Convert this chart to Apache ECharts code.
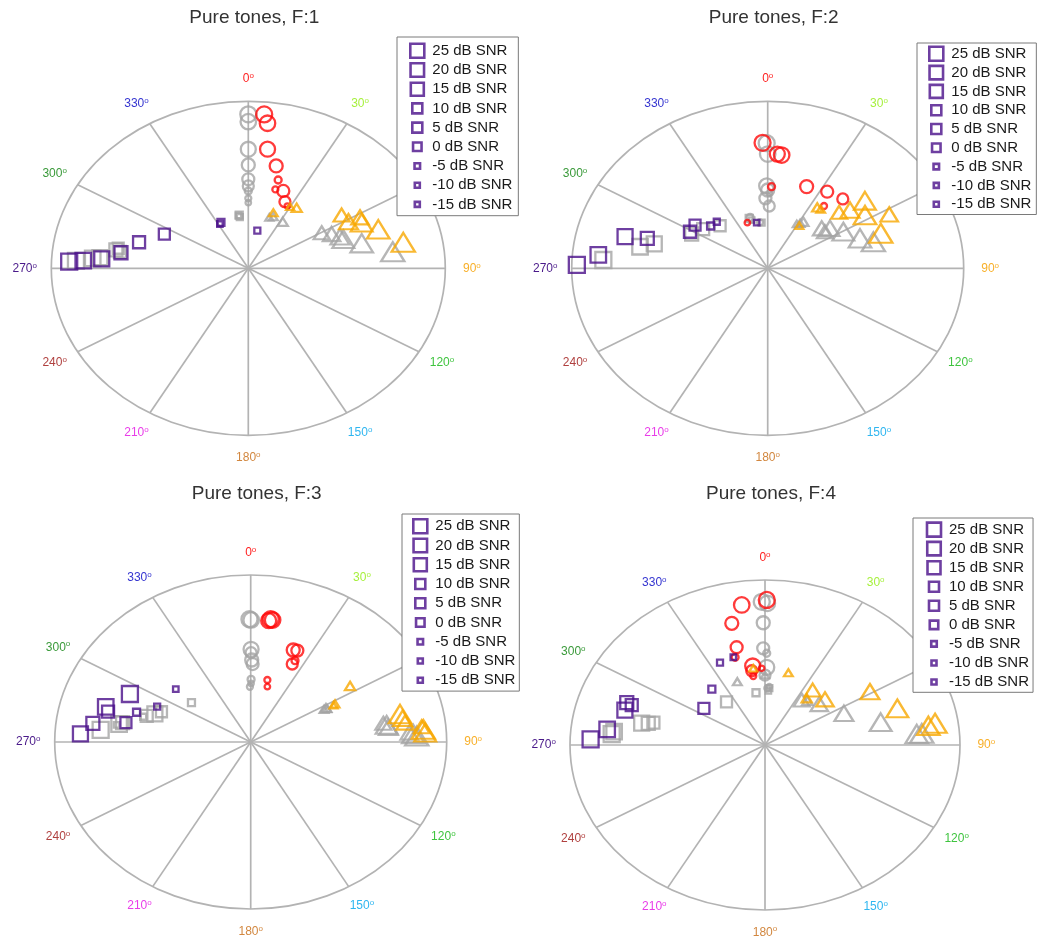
<!DOCTYPE html>
<html><head><meta charset="utf-8">
<script src="https://cdn.jsdelivr.net/npm/echarts@6/dist/echarts.min.js"></script>
<style>html,body{margin:0;padding:0;background:#fff}#c{width:1037px;height:938px}</style>
</head><body><div id="c"></div>
<script>
// ---------- DATA ----------
const snrLabels = ['25 dB SNR','20 dB SNR','15 dB SNR','10 dB SNR','5 dB SNR','0 dB SNR','-5 dB SNR','-10 dB SNR','-15 dB SNR'];
const panelTitles = ['Pure tones, F:1','Pure tones, F:2','Pure tones, F:3','Pure tones, F:4'];
const tickAngles = [0,30,60,90,120,150,180,210,240,270,300,330];
const tickColors = ['#ff2222','#a6f03c','#f0c000','#f8b02a','#3fc43f','#2fb6f0','#d2873f','#e93de9','#b0403f','#4a1a8a','#3a9a3a','#3535d0'];

// each entry: [angle (deg), radius (0..1)], ordered 25 dB ... -15 dB SNR
const f1Red     = [[5.0,0.925],[6.4,0.874],[7.8,0.720],[13.0,0.629],[21.0,0.496],[25.0,0.440],[16.0,0.550],[16.2,0.492],[28.0,0.422]];
const f1GrayC   = [[0,0.922],[0,0.878],[0,0.713],[0,0.619],[0,0.533],[0,0.493],[0,0.463],[0,0.419],[0,0.393]];
const f1Orange  = [[78.8,0.802],[70.5,0.700],[64.6,0.637],[61.2,0.580],[61.7,0.644],[56.0,0.571],[34.1,0.438],[20.9,0.356],[29.9,0.425]];
const f1GrayT   = [[82.3,0.740],[75.4,0.595],[70.1,0.513],[67.9,0.502],[64.1,0.470],[60.3,0.429],[32.1,0.329],[22.3,0.334],[19.3,0.323]];
const f1Purple  = [[272.5,0.910],[273.1,0.839],[274.3,0.746],[278.2,0.653],[285.7,0.576],[295.7,0.473],[333.2,0.308],[11.5,0.230],[331.5,0.302]];
const f1GrayS   = [[272.9,0.876],[274.3,0.792],[274.8,0.756],[279.3,0.681],[278.6,0.659],[280.3,0.671],[351.8,0.322],[352.0,0.310],[351.0,0.320]];

const f2Red     = [[358.0,0.752],[6.0,0.682],[4.1,0.686],[22.1,0.528],[33.5,0.550],[42.7,0.565],[2.3,0.489],[37.6,0.471],[339.2,0.292]];
const f2GrayC   = [[359.6,0.749],[0,0.684],[359.4,0.493],[0,0.469],[358.4,0.419],[1.2,0.373],[343.6,0.318],[351.9,0.278],[1.0,0.449]];
const f2Orange  = [[70.0,0.614],[57.3,0.590],[50.8,0.640],[50.3,0.546],[62.5,0.699],[47.4,0.495],[34.7,0.444],[37.4,0.445],[32.3,0.302]];
const f2GrayT   = [[73.6,0.562],[69.1,0.504],[60.4,0.444],[53.0,0.398],[49.0,0.365],[53.1,0.365],[33.1,0.333],[31.5,0.316],[29.2,0.304]];
const f2Purple  = [[271.2,0.974],[275.3,0.868],[284.6,0.752],[286.3,0.640],[298.9,0.453],[304.9,0.452],[311.0,0.386],[317.0,0.381],[348.4,0.279]];
const f2GrayS   = [[273.4,0.840],[281.2,0.664],[284.2,0.597],[297.9,0.439],[305.4,0.404],[316.4,0.352],[342.5,0.314],[353.5,0.275],[344.2,0.300]];

const f3Red     = [[7.9,0.742],[8.7,0.739],[7.2,0.732],[21.5,0.592],[23.5,0.597],[24.4,0.513],[24.9,0.537],[12.9,0.381],[14.4,0.342]];
const f3GrayC   = [[359.5,0.735],[0.2,0.731],[0.2,0.555],[0.6,0.491],[1.2,0.467],[0.2,0.535],[0.3,0.375],[359.3,0.331],[0.3,0.351]];
const f3Orange  = [[85.1,0.884],[77.6,0.780],[86.4,0.892],[79.6,0.788],[81.6,0.796],[84.0,0.877],[56.5,0.608],[62.1,0.487],[62.5,0.476]];
const f3GrayT   = [[87.6,0.848],[86.7,0.831],[81.6,0.701],[82.9,0.708],[86.0,0.811],[80.6,0.686],[62.2,0.434],[62.4,0.422],[63.0,0.439]];
const f3Purple  = [[295.0,0.680],[285.9,0.769],[273.2,0.870],[277.9,0.813],[284.0,0.750],[280.3,0.647],[287.0,0.609],[293.9,0.522],[309.6,0.496]];
const f3GrayS   = [[275.4,0.769],[279.1,0.680],[289.0,0.517],[280.1,0.664],[286.4,0.553],[291.7,0.490],[307.9,0.383],[285.4,0.569],[278.5,0.692]];

const f4Red     = [[0.6,0.879],[352.0,0.857],[352.5,0.483],[347.0,0.757],[346.2,0.610],[351.4,0.455],[343.9,0.553],[351.8,0.422],[357.9,0.465]];
const f4GrayC   = [[358.9,0.868],[0.8,0.859],[1.1,0.471],[359.3,0.741],[359.1,0.586],[0,0.424],[0.9,0.556],[2.0,0.344],[3.6,0.354]];
const f4Orange  = [[81.4,0.882],[82.1,0.846],[71.9,0.714],[59.0,0.628],[48.0,0.414],[36.3,0.413],[37.1,0.355],[15.3,0.454],[352.6,0.469]];
const f4GrayT   = [[85.0,0.807],[85.1,0.781],[76.9,0.609],[64.6,0.448],[48.3,0.373],[34.6,0.331],[39.0,0.345],[339.7,0.409],[0,0.424]];
const f4Purple  = [[272.2,0.895],[276.7,0.815],[286.4,0.749],[289.9,0.754],[289.5,0.725],[305.3,0.384],[321.2,0.435],[335.2,0.550],[343.0,0.556]];
const f4GrayS   = [[274.8,0.789],[276.0,0.778],[281.8,0.646],[282.4,0.613],[283.3,0.588],[323.0,0.328],[351.7,0.320],[3.7,0.345],[3.0,0.328]];

// ---------- STYLE / LAYOUT ----------
const COL = {red:'#ff0a0a', orange:'#f8a800', purple:'#4a0f8a', gray:'#a4a4a4', frame:'#b3b3b3'};
const markSize = [16,15.5,15,13,12,11,7,6,5.5];
const legendIconSize = [14,13.5,13,10,10,8.5,5.5,5,5];
const FONT = '"Liberation Sans", Arial, Helvetica, sans-serif';

const panels = [
  {cx:248.3, cy:268.3, rx:197, ry:167, ty:18, leg:{left:397, top:37, padding:[4.5,6,2,9], gap:0.6},
   g:{red:f1Red, grayC:f1GrayC, orange:f1Orange, grayT:f1GrayT, purple:f1Purple, grayS:f1GrayS}},
  {cx:767.7, cy:268.3, rx:196, ry:167, ty:18, leg:{left:917, top:43, padding:[1.5,5,1,8], gap:0.2},
   g:{red:f2Red, grayC:f2GrayC, orange:f2Orange, grayT:f2GrayT, purple:f2Purple, grayS:f2GrayS}},
  {cx:250.7, cy:742, rx:196, ry:167, ty:494, leg:{left:402, top:514, padding:[3,4,1.5,7], gap:0.65},
   g:{red:f3Red, grayC:f3GrayC, orange:f3Orange, grayT:f3GrayT, purple:f3Purple, grayS:f3GrayS}},
  {cx:765, cy:745, rx:195, ry:165, ty:494, leg:{left:913, top:518, padding:[2.3,4,1,9.7], gap:0.45},
   g:{red:f4Red, grayC:f4GrayC, orange:f4Orange, grayT:f4GrayT, purple:f4Purple, grayS:f4GrayS}}
];

function toXY(p){ const t = p[0]*Math.PI/180; return [p[1]*Math.sin(t), p[1]*Math.cos(t)]; }
function sqIcon(s){
  const a = (10 - s/2).toFixed(2), b = (8 - s/2).toFixed(2);
  return 'path://M0,0M20,16M' + a + ',' + b + 'h' + s + 'v' + s + 'h' + (-s) + 'z';
}
function item(p, sym, i, color){
  const s = markSize[i];
  return {value: toXY(p), symbol: sym,
          symbolSize: sym === 'triangle' ? [s*1.45, s*1.18] : s,
          itemStyle: {borderColor: color}};
}

const grid = [], xAxis = [], yAxis = [], series = [], legend = [], graphic = [];
panels.forEach((P, k) => {
  grid.push({left: P.cx - P.rx, top: P.cy - P.ry, width: 2*P.rx, height: 2*P.ry});
  xAxis.push({gridIndex:k, type:'value', min:-1, max:1, show:false});
  yAxis.push({gridIndex:k, type:'value', min:-1, max:1, show:false});
  graphic.push({type:'text', x: P.cx + 6, y: P.ty,
    style:{text: panelTitles[k], fill:'#333', font: '19px ' + FONT, fontSize:19, fontFamily:FONT,
           align:'center', verticalAlign:'middle', textAlign:'center', textVerticalAlign:'middle'}});
  // polar frame: ellipse, spokes, angle labels (through the grid's scales)
  series.push({
    type:'custom', xAxisIndex:k, yAxisIndex:k, silent:true, z:1, clip:false,
    data:[[0,0]],
    renderItem: function(params, api){
      const c = api.coord([0,0]);
      const ex = api.coord([1,0]), ey = api.coord([0,1]);
      const children = [{type:'ellipse', shape:{cx:c[0], cy:c[1], rx:ex[0]-c[0], ry:c[1]-ey[1]},
        style:{fill:'none', stroke:COL.frame, lineWidth:1.7}}];
      tickAngles.forEach((a, j) => {
        const t = a*Math.PI/180;
        const e = api.coord([Math.sin(t), Math.cos(t)]);
        children.push({type:'line', shape:{x1:c[0], y1:c[1], x2:e[0], y2:e[1]},
          style:{stroke:COL.frame, lineWidth:1.7}});
        const L = api.coord([1.135*Math.sin(t), 1.135*Math.cos(t)]);
        children.push({type:'text', x:L[0], y:L[1],
          style:{text:'{n|' + a + '}{s|o}', align:'center', verticalAlign:'middle',
            rich:{n:{fontSize:12, fontFamily:FONT, fill:tickColors[j], lineHeight:14},
                  s:{fontSize:8, fontFamily:FONT, fill:tickColors[j], verticalAlign:'top', lineHeight:9}}}});
      });
      return {type:'group', children: children};
    }
  });
  snrLabels.forEach((name, i) => {
    const base = {name:name, type:'scatter', xAxisIndex:k, yAxisIndex:k, symbol:'rect',
      itemStyle:{color:'rgba(0,0,0,0)', borderColor:COL.purple, borderWidth:2.3},
      emphasis:{disabled:true}};
    series.push(Object.assign({}, base, {z:3, data:[
      item(P.g.grayC[i], 'circle', i, COL.gray),
      item(P.g.grayT[i], 'triangle', i, COL.gray),
      item(P.g.grayS[i], 'rect', i, COL.gray)]}));
    series.push(Object.assign({}, base, {z:4, data:[
      item(P.g.red[i], 'circle', i, COL.red),
      item(P.g.orange[i], 'triangle', i, COL.orange),
      item(P.g.purple[i], 'rect', i, COL.purple)]}));
  });
  legend.push({
    orient:'vertical', left:P.leg.left, top:P.leg.top, padding:P.leg.padding, itemGap:P.leg.gap,
    itemWidth:20, itemHeight:16, z:10, selectedMode:false,
    backgroundColor:'#fff', borderColor:'#7a7a7a', borderWidth:1, borderRadius:0,
    textStyle:{fontSize:15, color:'#1a1a1a', fontFamily:FONT},
    itemStyle:{color:'rgba(0,0,0,0)', borderColor:COL.purple, borderWidth:2.6},
    data: snrLabels.map((n, i) => ({name:n, icon: sqIcon(legendIconSize[i])}))
  });
});

const chart = echarts.init(document.getElementById('c'), null, {renderer:'canvas'});
chart.setOption({animation:false, backgroundColor:'#fff', grid, xAxis, yAxis, series, legend, graphic, tooltip:{show:false}});
</script>
</body></html>
